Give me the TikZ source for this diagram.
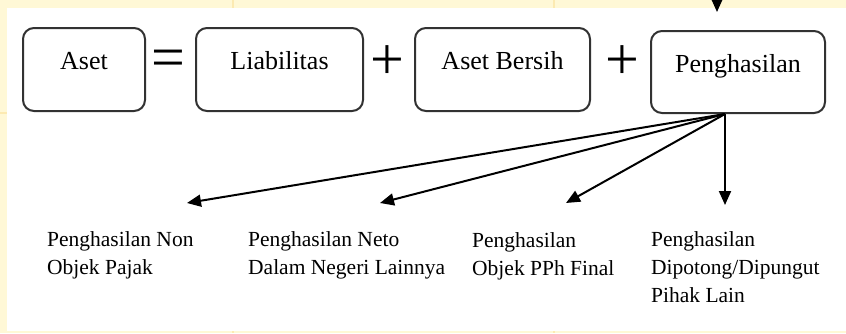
\documentclass[tikz,border=0pt]{standalone}
\usepackage{fontspec}
\setmainfont{Liberation Serif}
\usetikzlibrary{arrows.meta}
\definecolor{pagebg}{RGB}{255,248,214}
\definecolor{gridln}{RGB}{252,234,178}
\definecolor{boxline}{RGB}{50,50,50}

\begin{document}
\begin{tikzpicture}[x=1pt,y=-1pt,
  termbox/.style={draw=boxline, line width=2pt, rounded corners=11pt,
    minimum height=83pt, inner sep=0pt, font=\fontsize{26}{30}\selectfont,
    text height=15pt, text depth=15pt},
  opsign/.style={inner sep=0pt, font=\fontsize{60}{60}\selectfont, anchor=base},
  % multi-line labels: the base anchor sits on the last line
  leaf/.style={anchor=base west, align=left, inner sep=0pt,
    font=\fontsize{21.5}{28}\selectfont},
  flow/.style={line width=2pt, -{Triangle[length=14pt,width=12pt]}}]

% page frame: yellow sheet with faint grid, white panel on top
\clip (0,0) rectangle (846,333);
\fill[pagebg] (0,0) rectangle (846,333);
\draw[gridln, line width=2pt] (232.5,0) -- (232.5,333) (553.5,0) -- (553.5,333)
  (0,113) -- (846,113);
\fill[white] (7,8) rectangle (846,331);

% the equation
\node[termbox, minimum width=122pt] (aset) at (84,69.5) {Aset};
\node[opsign] (eq) at (168,77) {=};
\node[termbox, minimum width=167pt] (liab) at (279.5,69.5) {Liabilitas};
\node[opsign] (plus1) at (387.5,79) {+};
\node[termbox, minimum width=175pt] (bersih) at (502.5,69.5) {Aset Bersih};
\node[opsign] (plus2) at (622,79) {+};
\node[termbox, minimum width=174pt, minimum height=82pt] (peng) at (738,72) {Penghasilan};

% kinds of income
\node[leaf] (nonobj) at (47,274) {Penghasilan Non\\Objek Pajak};
\node[leaf] (neto) at (248,274) {Penghasilan Neto\\Dalam Negeri Lainnya};
\node[leaf] (final) at (472,275) {Penghasilan\\Objek PPh Final};
\node[leaf] (pihak) at (651,302) {Penghasilan\\Dipotong/Dipungut\\Pihak Lain};

% arrows fanning out of Penghasilan
\coordinate (src) at ([xshift=-13pt]peng.south);
\coordinate (e1) at (187,203);
\coordinate (e2) at (380,203);
\coordinate (e3) at (566,203);
\coordinate (e4) at (725,205);
\draw[flow] (src) -- (e1);
\draw[flow] (src) -- (e2);
\draw[flow] (src) -- (e3);
\draw[flow] (src) -- (e4);

% incoming arrow at the top edge
\coordinate (inA) at (717,-30);
\coordinate (inB) at (717,12);
\draw[flow] (inA) -- (inB);
\end{tikzpicture}
\end{document}
